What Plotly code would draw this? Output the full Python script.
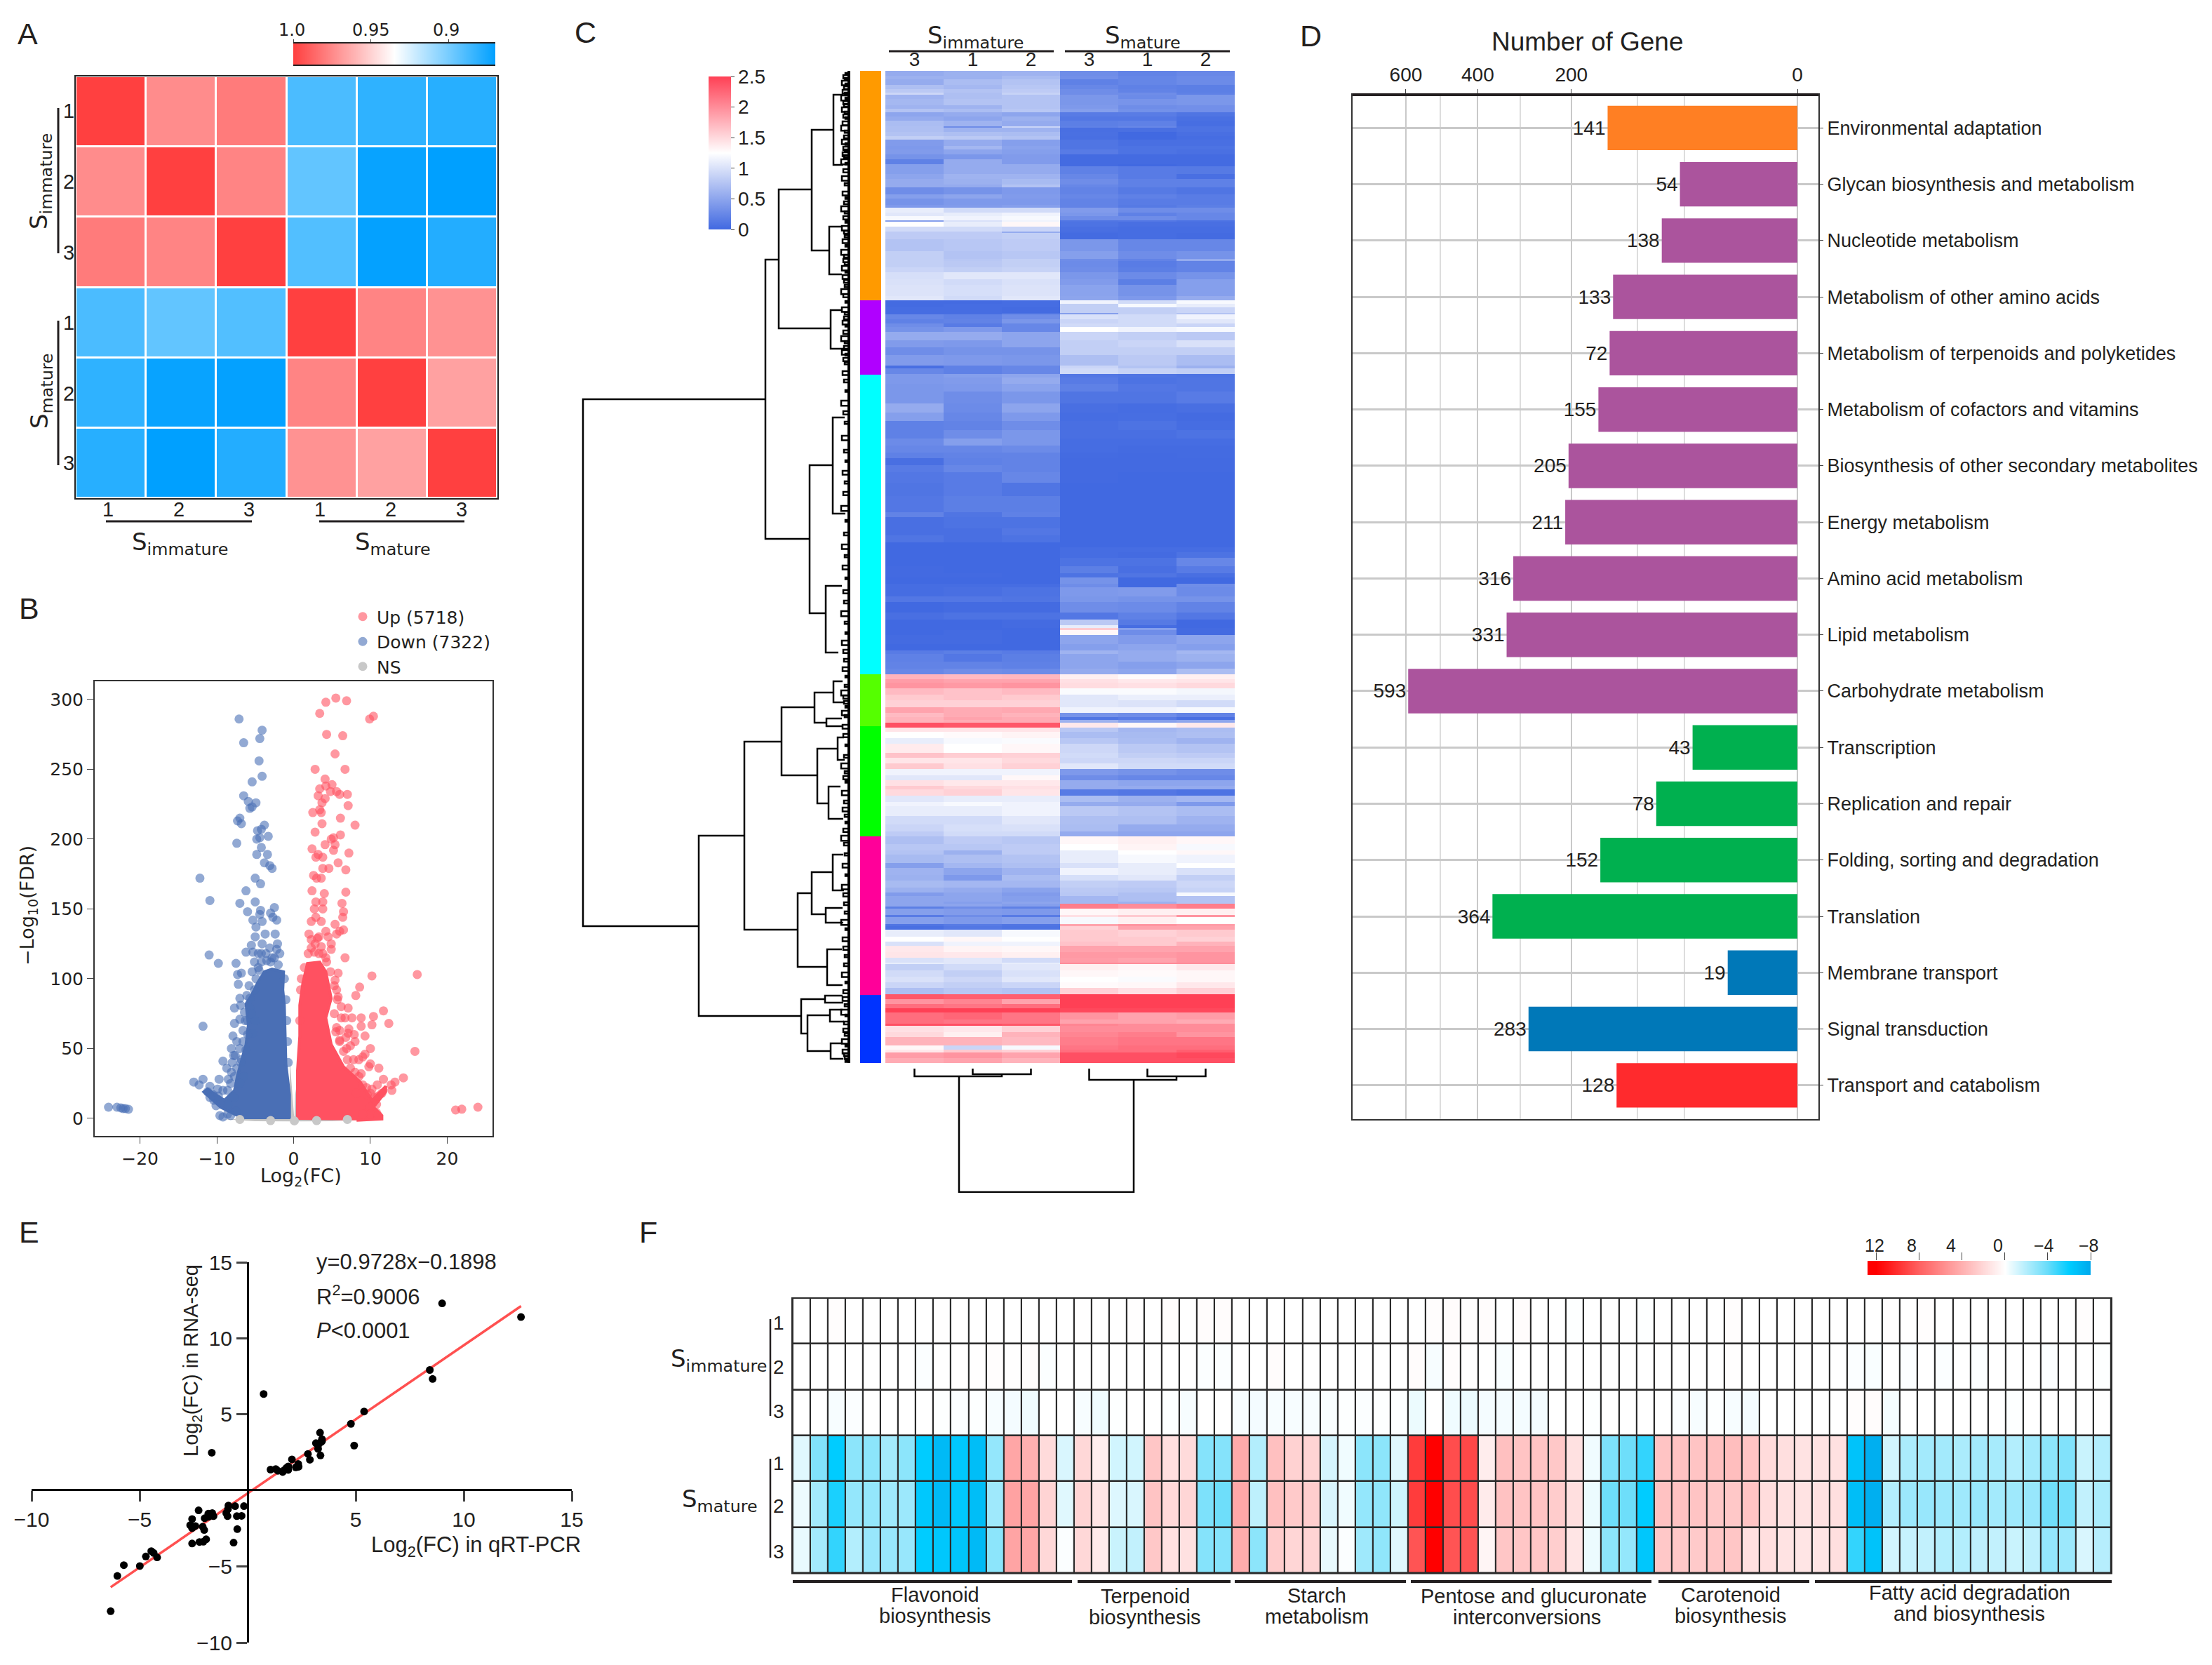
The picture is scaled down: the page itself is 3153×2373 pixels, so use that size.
import numpy as np
import plotly.graph_objects as go

W, H = 3153, 2373
SANS = "Liberation Sans"
WIDE = "DejaVu Sans"
NARROW = "Liberation Sans"
INK = "#231f20"

# ---------- Panel A ----------
corr_labels = ["1", "2", "3", "1", "2", "3"]
corr_matrix = [
    [1.000, 0.974, 0.980, 0.889, 0.882, 0.880],
    [0.974, 1.000, 0.977, 0.895, 0.872, 0.870],
    [0.980, 0.977, 1.000, 0.891, 0.871, 0.879],
    [0.889, 0.895, 0.891, 1.000, 0.977, 0.972],
    [0.882, 0.872, 0.871, 0.977, 1.000, 0.967],
    [0.880, 0.870, 0.879, 0.972, 0.967, 1.000],
]

# ---------- Panel B ----------
down_x = [-7.1,-4.1,-4.4,-6.5,-4.5,-4.1,-5.4,-6.5,-5.9,-4.9,-5.4,-5.7,-7,-7.3,-6.8,-3.8,-4.2,-4.7,-4.4,-4.8,-3.3,-7.4,-4.2,-3.4,-4.8,-3.8,-3.1,-2.8,-12.2,-5,-4.3,-6.2,-10.9,-5,-7,-2.5,-4.3,-6,-3,-4.4,-5.3,-2.2,-2.7,-4.1,-4.9,-5,-3.7,-2.4,-5.5,-5.3,-6.2,-4.2,-2.2,-2.8,-11,-9.8,-7.5,-6.8,-7.3,-5.4,-7.2,-4.6,-7,-5.7,-7.7,-6.9,-5.7,-7.7,-7,-6,-5,-11.8,-6.6,-5.3,-7.9,-7.4,-8.1,-7.8,-6.2,-6.8,-9.2,-8.7,-8.1,-9.7,-7.7,-11.8,-13,-12.3,-10.9,-9.9,-11.2,-10.4,-10.1,-9.6,-8.6,-9.2,-24.1,-23,-22.5,-22.2,-21.9,-21.5,
          -6.5,-7,-8.2,-7.8,-6,-5.5,-6.6,-6.9,-7.4,-8.6,-6.3,-4.9,-5.1,-4.5,-4.2,-3.5,-3,-2.5,-2,-1.8,-2.1,-3.1,-3.6,-4.1,-4.6,-5.1,-1.2,-1,-.9,-.8,-.7,-5.8,-6.1,-6.4,-7,-7.6,-8,-8.5,-9.2,-9.8,-10.5,-10.9,-8.5,-7.5,-8.2]
down_y = [286,278,272,269,256,245,241,231,227,226,223,222,215,213,211,210,207,206,201,200,202,197,194,189,189,183,181,179,172,172,168,163,156,155,154,151,149,148,147,146,142,142,144,141,137,130,132,132,124,119,119,118,121,115,117,111,111,104,103,105,96,108,86,86,79,81,79,68,71,70,70,66,63,61,59,55,50,45,49,42,41,36,33,28,30,28,26,24,23,21,19,13,9,2,3,1,8,8,7.5,7,7,6.5,
          30,25,25,15,60,75,55,40,36,20,70,100,92,106,112,113,112,115,110,118,125,122,118,125,118,112,100,85,70,55,40,95,88,76,50,45,40,28,20,16,17,15,10,5,2]
up_x = [5.5,6.9,4.2,3.4,10.4,9.9,4.3,6.4,5.4,2.8,6.7,4.1,3.4,5,4.2,4.8,5.6,6,7,3.2,4.1,3.7,7.1,3.4,2.5,3.6,6.1,3.7,8,2.8,6.1,4.9,5.2,4.1,5.4,2.4,5.2,7.2,3.2,2.9,3.8,5.8,3.8,4.6,6.8,2.6,3.6,3,2.4,4,6.8,2.9,3.8,6.3,2.7,3.8,6.5,6.4,2.9,3.6,2.3,5.4,4.2,6.5,6,5.6,2,4.5,3.1,3.6,4.9,2.7,6.7,4.2,10.2,16.1,5.8,5.4,8.6,5.6,8.1,5.8,11.7,7.1,6.2,10.4,6.7,8.8,7.6,12.4,10.2,8.8,6,7.1,7.9,9.3,8,6,10,6.9,15.8,9.3,9,7.8,8.5,10,9.8,11.1,8.8,14.3,13.2,11.7,12.7,10.9,10.2,12.8,9.6,10.8,21.1,21.9,24,
        1,.9,.8,1.4,1.9,2.3,2.8,3.3,3.8,4.3,4.8,5.3,5.7,5.3,5.6,6,6.5,7,7.4,8,8.5,9,9.5,10,10.5,11,11.5,6.2,6.8,7.4,7.2,5.5,8.2,10,10.8,10,9,11,4.9,3.3,2.3]
up_y = [301,299,298,290,288,286,275,274,261,250,250,243,236,239,238,234,234,232,232,231,229,226,224,221,219,219,215,211,210,205,203,200,201,196,196,193,192,190,189,187,187,183,179,179,178,174,172,172,163,161,162,155,155,154,150,150,148,144,144,141,141,139,134,135,134,132,132,130,129,123,121,119,115,115,102,103,104,99,94,92,88,87,77,79,80,73,72,72,72,68,67,66,63,61,60,59,55,56,50,50,48,46,44,42,42,39,37,36,32,29,26,28,24,24,21,20,17,10,6,6.6,8,
        100,92,70,108,118,122,125,118,118,112,105,95,85,75,65,55,48,42,36,33,30,24,22,18,15,16,18,72,58,52,64,62,18,8,4,3,3,2,125,130,128]
ns_x = [-7, -3, 0.1, 3, 7]
ns_y = [-0.8, -1.6, -1.8, -1.6, -0.8]
down_mass_x = [-.53,-.53,-1,-1.1,-1.2,-1.4,-1.3,-2.8,-3.8,-4.7,-5.5,-6.2,-5.9,-6.2,-7.3,-7.7,-9,-11.2,-11.7,-9.5,-6.4]
down_mass_y = [-.5,17,39,59,81,92,105,107,105,97,88,82,67,53,31,20,13,21,19,8,-.5]
up_mass_x = [.5,.5,.8,.8,1.2,1.8,3.4,4.2,4.9,4.2,4.9,6.5,8.7,10.2,12,12,10.4,11.5,11.5,8.2]
up_mass_y = [-1,34,59,81,97,111,112,105,86,72,53,37,26,13,23,19,8,2,-.5,-1.4]
ns_band_x = [-9.5,-5,0,5,10,0,-9.5]
ns_band_y = [-.5,-2,-2.2,-2,-.5,-.5,-.5]
ns_wedge_l_x = [-.5,.1,-.1,-.5]
ns_wedge_l_y = [-1.2,-1.2,13,42]
ns_wedge_r_x = [.1,.6,.6,.2]
ns_wedge_r_y = [-1.2,-1.2,31,17]

# ---------- Panel C ----------
col_labels = ["3", "1", "2", "3", "1", "2"]
# each row: rank at the top of the band, then S-immature 3,1,2, S-mature 3,1,2
heat_rows = [
(0,.55,.6,.62,.3,.22,.26),(7,.6,.6,.68,.32,.24,.28),(12,.55,.7,.75,.2,.24,.28),(20,.72,.66,.78,.25,.2,.18),
(26,.8,.75,.82,.3,.22,.18),(31,.92,.72,.88,.3,.3,.2),(34,.62,.72,.75,.38,.28,.38),(40,.66,.75,.75,.38,.36,.38),
(49,.62,.62,.75,.4,.3,.32),(54,.75,.7,.78,.45,.33,.32),(59,.5,.55,.5,.15,.16,.1),(65,.55,.5,.6,.12,.12,.06),
(71,.7,.62,.55,.18,.2,.04),(79,.72,.3,.9,.2,.25,.08),(81,.72,.62,.62,.05,.06,.08),(87,.75,.72,.7,.06,0,.05),
(93,.85,.8,.75,.05,0,.03),(98,.42,.55,.45,.1,.05,.05),(107,.4,.65,.48,.1,.08,.08),(112,.42,.5,.45,.15,.08,.06),
(119,.35,.38,.42,.02,.02,.02),(126,.2,.55,.42,.02,.02,.02),(133,.45,.55,.55,.02,0,.02),(136,.45,.55,.55,.2,.15,.14),
(147,.5,.62,.62,.25,.15,.05),(154,.55,.6,.68,.3,.2,.2),(162,.55,.55,.75,.25,.2,.2),(166,.3,.35,.4,.22,.14,.1),
(176,.45,.5,.42,.25,.2,.16),(182,.35,.4,.4,.22,.16,.16),(191,.4,.42,.45,.22,.14,.18),(195,1.1,.95,.95,.42,.3,.3),
(202,1.05,1.1,1.15,.38,.2,.25),(207,1.2,1.15,1.2,.3,.3,.25),(213,.45,1.0,1.15,.1,.12,.08),(215,1.25,1.1,1.3,.08,.05,.05),
(222,.95,.95,.9,.05,.03,.03),(229,.82,.82,.55,.03,.03,.03),(231,.82,.82,.85,.02,.03,.02),(240,.75,.78,.82,.38,.25,.25),
(257,.85,.75,.78,.45,.3,.35),(268,.85,.78,.85,.3,.22,.55),(271,.85,.8,.85,.28,.16,.22),(280,.9,.85,.88,.3,.18,.22),
(287,.98,1.05,1.05,.38,.28,.35),(297,1.0,.95,1.0,.42,.18,.45),(305,1.02,.98,1.02,.48,.35,.45),(321,1.05,.95,1.05,.5,.4,.55),
(327,.02,.02,.03,1.15,.95,1.2),(332,.02,.03,.03,.85,1.2,1.1),(337,.03,.03,.02,.85,.85,.9),(345,.03,.04,.1,.45,.85,.75),
(347,.25,.2,.3,1.0,.95,1.15),(354,.2,.22,.38,.9,.95,1.05),(360,.3,.15,.25,.95,.95,.9),(365,.35,.4,.25,1.25,1.15,1.2),
(372,.55,.55,.5,.9,.85,.8),(384,.42,.4,.5,.85,.9,1.0),(394,.3,.35,.35,.85,.85,.85),(405,.42,.4,.38,.72,.8,.7),
(420,.05,.2,.25,.9,.75,.6),(424,.25,.2,.25,.95,.88,.85),(432,.4,.45,.5,.12,.1,.08),(437,.4,.42,.55,.15,.08,.1),
(446,.38,.4,.48,.2,.12,.1),(457,.38,.3,.38,.1,.1,.15),(474,.55,.28,.5,.05,.03,.05),(487,.45,.25,.4,.03,.04,.02),
(499,.2,.22,.3,.05,.08,.03),(512,.2,.3,.38,.05,.05,.08),(524,.28,.45,.38,.03,.03,.03),(534,.25,.25,.28,.03,.02,.02),
(544,.2,.22,.22,.02,.01,.02),(552,.05,.2,.22,.01,.01,.01),(562,.15,.25,.22,.01,.01,.01),(572,.12,.15,.25,.01,0,0),
(587,.1,.15,.1,0,0,0),(606,.12,.18,.18,0,0,0),(629,.22,.1,.2,0,0,0),(636,.05,.08,.08,0,0,0),
(652,.05,.05,.12,0,0,0),(662,.1,.05,.08,0,0,0),(672,0,0,0,0,0,0),(679,0,0,0,.03,.03,.03),
(686,0,0,0,.03,.02,.08),(694,0,0,0,.08,.08,.25),(706,.01,0,0,.18,.05,.15),(716,.01,.01,0,.08,.1,.05),
(722,0,0,0,.35,0,0),(731,.03,.03,.03,.3,0,.3),(736,.03,.05,.08,.4,.42,.28),(749,.12,.12,.1,.38,.35,.35),
(757,0,.02,.02,.3,.28,.22),(772,.05,.08,.08,.12,.2,.12),(782,0,0,.02,.8,.14,0),(790,0,0,.02,1.1,.03,0),
(794,0,0,0,1.6,.45,.02),(797,0,.02,0,1.3,.3,.02),(804,.02,.02,0,.5,.42,.5),(817,0,0,0,.45,.5,.45),
(826,.15,.18,.15,.62,.55,.65),(831,.2,.12,.18,.5,.55,.6),(842,.22,.22,.2,.5,.45,.5),(852,.25,.3,.28,.55,.5,.7),
(860,1.75,1.7,1.72,1.35,1.28,1.35),(867,1.9,1.85,1.85,1.45,1.4,1.42),(872,1.95,1.92,1.95,1.48,1.45,1.5),(880,1.7,1.65,1.7,1.22,1.22,1.18),
(889,1.6,1.65,1.6,1.05,1.12,1.12),(897,1.55,1.55,1.55,1.05,1.02,.95),(907,1.85,1.8,1.82,1.15,1.15,1.2),(915,1.7,1.8,1.75,.35,.3,.22),
(921,1.75,1.85,1.8,.1,.15,.05),(925,1.75,1.8,1.8,.6,.45,.5),(929,2.4,2.35,2.35,1.4,1.3,1.4),(936,1.42,1.42,1.42,.78,.65,.7),
(942,1.25,1.28,1.32,.7,.68,.72),(951,1.1,1.2,1.22,.78,.7,.62),(959,1.38,1.25,1.3,.92,.8,.75),(972,1.65,1.58,1.55,.95,.85,.82),
(979,1.42,1.42,1.5,.92,.92,.9),(987,1.6,1.45,1.55,1.05,.95,.95),(995,1.15,1.15,1.15,.4,.35,.3),(1004,1.05,1.05,1.3,.3,.25,.25),
(1011,1.45,1.4,1.4,.55,.5,.5),(1019,1.6,1.5,1.45,.55,.55,.55),(1024,1.5,1.55,1.42,.15,.12,.08),(1033,1.05,1.1,1.1,.7,.6,.65),
(1042,1.15,1.2,1.15,.55,.55,.4),(1048,1.1,1.1,1.15,.8,.75,.7),(1062,.95,.95,1.05,.72,.72,.62),(1074,.9,.98,1.0,.7,.55,.55),
(1084,.82,.95,.95,.55,.5,.5),(1091,.72,.82,.78,1.3,1.35,1.3),(1102,.78,.78,.82,1.25,1.32,1.2),(1111,.75,.6,.82,1.1,1.25,1.3),
(1117,.68,.72,.75,1.1,1.2,1.15),(1129,.45,.65,.72,1.0,1.1,1.25),(1136,.62,.5,.62,1.15,1.1,1.0),(1146,.6,.4,.7,.98,1.05,.85),
(1154,.68,.65,.65,.85,.82,.92),(1164,.6,.55,.48,.8,.78,.88),(1171,.42,.5,.42,.78,.72,1.2),(1176,.5,.5,.45,.65,.72,.75),
(1184,.5,.45,.5,.65,.6,.75),(1187,.5,.5,.45,2.1,2.0,2.1),(1191,.18,.3,.2,2.1,2.0,2.1),(1194,.45,.42,.4,1.3,1.35,1.35),
(1203,.15,.3,.15,1.45,1.6,1.95),(1206,.45,.4,.45,1.2,1.35,1.25),(1216,.1,.15,.1,1.85,1.95,1.9),(1219,.05,.12,.08,1.55,1.85,1.85),
(1224,1.1,1.05,1.2,1.6,1.55,1.6),(1234,1.25,1.3,1.25,1.6,1.6,1.55),(1241,1.0,1.15,1.15,1.65,1.6,1.75),(1247,1.4,1.32,1.3,1.85,1.85,1.85),
(1256,1.42,1.4,1.35,1.92,1.92,1.95),(1264,1.0,1.05,.95,1.9,1.85,1.95),(1271,1.1,1.05,1.1,2.0,2.0,2.0),(1273,.85,.95,1.05,1.35,1.3,1.4),
(1282,.95,.85,1.0,1.3,1.28,1.3),(1291,1.0,.92,1.05,1.25,1.22,1.3),(1299,.9,.85,.9,1.28,1.3,1.4),(1307,.72,.78,.75,1.55,1.45,1.55),
(1316,2.35,2.3,2.3,2.5,2.5,2.5),(1323,1.95,2.05,1.85,2.5,2.5,2.5),(1330,2.2,2.15,2.2,2.5,2.5,2.5),(1336,2.5,2.5,2.5,2.45,2.45,2.45),
(1342,2.2,2.25,2.15,1.95,1.85,1.9),(1352,2.2,2.15,2.15,1.85,1.85,1.8),(1358,2.4,2.4,2.35,2.05,2.0,2.0),(1361,1.45,1.4,1.55,2.0,2.0,2.0),
(1370,1.5,1.35,1.75,2.05,2.1,1.95),(1377,1.75,1.75,1.7,2.1,2.15,2.15),(1389,1.3,.9,1.2,2.15,2.2,2.2),(1395,1.4,1.6,1.55,2.2,2.2,2.3),
(1399,1.9,1.95,1.85,2.4,2.4,2.45),(1407,1.8,1.85,1.75,2.4,2.4,2.4),
]
heat_end = 1414
cluster_edges = [0, 327, 433, 860, 934, 1091, 1317, 1414]
cluster_colors = ["#ff9a00", "#b000ff", "#00ffff", "#55ff00", "#00ff00", "#ff0099", "#0033ff"]
# row dendrogram merges: height, upper rank, lower rank, upper child height, lower child height
tree_merges = [
(377,468,1219,117,212),(117,269,667,98,54),(98,169,367,51,24),(51,84,256,20,26),(20,34,134,6,6),(26,222,290,8,8),
(24,341,396,8,6),(54,562,773,21,31),(21,494,631,4,3),(31,734,829,8,13),(212,1090,1347,147,66),(147,956,1224,94,71),
(94,907,1004,47,43),(47,886,929,20,30),(20,870,900,7,5),(30,923,934,8,6),(43,966,1044,14,27),(14,950,982,5,4),
(27,1020,1066,10,6),(71,1172,1277,51,29),(51,1142,1202,21,31),(21,1117,1168,6,5),(31,1193,1214,7,6),(29,1252,1303,8,7),
(66,1323,1372,32,57),(32,1318,1328,7,6),(57,1346,1397,25,24),(25,1338,1355,7,5),(24,1386,1408,9,6),
]
fringe_y = [3,6,10,14,18,22,27,31,35,38,43,47,52,58,62,66,72,78,85,92,98,103,108,112,116,120,126,131,140,150,160,172,180,186,193,200,207,214,221,228,234,240,248,255,262,268,273,278,285,291,298,305,311,318,328,337,344,350,356,362,370,378,385,392,398,403,409,415,428,440,455,470,485,500,520,540,555,570,585,600,620,640,658,675,690,705,722,740,755,770,785,800,812,825,838,850,862,875,883,890,898,905,912,918,932,945,960,975,987,998,1005,1012,1026,1040,1050,1060,1070,1080,1090,1100,1115,1130,1145,1160,1172,1185,1198,1210,1222,1235,1248,1260,1272,1285,1298,1310,1320,1330,1338,1345,1355,1365,1372,1380,1388,1395,1400,1405,1410]
fringe_h = [3,6,4,8,3,5,7,4,9,3,6,5,8,4,6,3,7,9,4,5,8,3,6,4,7,5,9,3,6,8,4,7,3,5,9,4,6,3,8,5,4,7,3,9,5,6,4,8,3,7,5,4,9,6,3,8,4,5,7,3,6,9,4,5,8,3,6,4,7,5,3,9,6,4,8,5,3,7,4,6,9,3,5,8,4,7,3,6,5,9,4,3,8,6,5,7,3,4,9,6,5,3,8,4,7,6,3,5,9,4,6,3,8,5,7,4,3,6,9,5,4,7,3,8,6,5,4,9,3,7,6,4,5,8,3,6,7,4,9,3,5,6,4,8,3,7,5,4,3]
col_tree_x = [1.5,1.5,2.5,2.5,None,.5,.5,2,2,None,4.5,4.5,5.5,5.5,None,3.5,3.5,5,5,None,1.265,1.265,4.265,4.265]
col_tree_h = [176,168,168,176,None,176,165,165,168,None,176,165,165,176,None,176,160,160,165,None,165,0,0,160]

# ---------- Panel D ----------
pathways = ["Environmental adaptation","Glycan biosynthesis and metabolism","Nucleotide metabolism","Metabolism of other amino acids",
            "Metabolism of terpenoids and polyketides","Metabolism of cofactors and vitamins","Biosynthesis of other secondary metabolites",
            "Energy metabolism","Amino acid metabolism","Lipid metabolism","Carbohydrate metabolism","Transcription","Replication and repair",
            "Folding, sorting and degradation","Translation","Membrane transport","Signal transduction","Transport and catabolism"]
gene_bar = [141,54,72,133,138,155,205,211,316,331,593,43,78,152,364,19,283,128]
gene_label = [141,54,138,133,72,155,205,211,316,331,593,43,78,152,364,19,283,128]
bar_colors = ["#ff7f23"] + ["#ab549d"]*10 + ["#00b04f"]*4 + ["#0078b8"]*2 + ["#ff2a2d"]
d_ticks = [600,400,200,0]
d_minor = [500,300,100,50]

# ---------- Panel E ----------
qpcr = [12.65,9.0,8.43,8.56,5.39,4.78,4.93,.74,-1.66,3.35,3.16,3.26,3.26,3.39,3.44,3.44,3.37,2.79,2.88,2.05,2.34,2.23,2.36,1.88,1.8,1.88,1.62,1.4,1.3,1.06,1.69,-.17,-.58,-.89,-.91,-.99,-.93,-.5,-.28,-.48,-.65,-2.27,-1.82,-1.64,-1.58,-1.8,-1.99,-2.57,-2.66,-2.57,-2.42,-2.08,-2.01,-1.92,-2.05,-2.23,-2.57,-4.46,-4.35,-4.19,-4.71,-4.99,-5.73,-6.03,-6.34]
rnaseq = [11.4,12.3,7.92,7.33,5.19,4.38,2.95,6.34,2.48,3.8,3.11,2.97,2.73,3.17,3.37,3.23,2.3,2.4,2.02,2.04,1.74,1.52,1.56,1.58,1.49,1.35,1.21,1.29,1.41,1.37,1.33,-1.03,-1.03,-.99,-1.23,-1.49,-1.69,-1.69,-1.67,-2.54,-3.43,-1.31,-1.53,-1.49,-1.69,-1.73,-1.83,-1.88,-2.28,-2.48,-2.34,-2.38,-2.6,-3.21,-3.37,-3.39,-3.49,-3.99,-4.11,-4.4,-4.34,-4.97,-4.91,-5.62,-7.94]
fit_x = [-6.34, 12.65]
fit_y = [-6.36, 12.12]

# ---------- Panel F ----------
imm1 = [0,0,.1,0,0,0,0,0,.05,.05,0,0,0,0,0,0,.05,0,0,.05,0,.05,0,.15,.15,0,0,0,0,0,0,0,0,0,0,0,.1,.15,.1,.15,0,.15,0,0,-.05,0,0,0,-.05,0,0,0,0,.1,0,0,0,0,0,0,0,0,.1,0,.1,0,0,0,0,0,0,0,0,.1,0]
imm2 = [0,0,0,0,0,0,0,-.1,0,.05,.05,.1,.05,.1,-.1,0,0,0,0,0,0,0,0,-.1,-.1,0,0,.15,0,0,0,0,0,0,0,.15,-.2,.1,.05,0,-.15,0,0,0,0,0,0,0,0,0,0,0,0,.05,0,0,0,0,0,0,-.1,-.15,0,-.1,0,-.1,0,-.1,0,0,0,-.1,0,0,-.05]
imm3 = [0,0,-.2,-.1,0,0,0,0,-.05,-.1,-.05,-.2,-.3,-.4,0,0,-.2,-.4,-.05,0,0,-.05,-.2,0,0,-.2,-.3,-.2,-.2,-.2,-.15,-.05,-.1,-.05,-.05,-.5,0,-.4,-.5,-.3,-.3,-.3,-.3,0,0,-.05,0,0,0,0,-.1,-.2,-.05,-.2,-.3,0,0,0,0,0,.1,.15,-.25,0,0,0,0,0,0,-.05,0,0,0,0,0]
mat1 = [-.8,-3.3,-6,-3,-3,-2.4,-3,-6,-7,-6.2,-6.8,-2.8,4.5,4,1.8,-1,2,.9,-1.2,-1.2,2.9,1.6,1.8,-3.2,-3.2,4.3,-2,3.2,2.3,2.2,-1.1,-.4,-3,-3,-.8,9.5,12,8.8,9,.9,3.2,3,3,2.8,1.5,-.4,-3.4,-3.8,-5,3,3.1,3,3.2,3.3,3,1.8,1.6,1.4,1.4,1.5,-6.5,-7.6,-1.2,-2.2,-2.4,-2.4,-2.2,-2.4,-2.3,-2,-2.4,-3,-3.3,-1.4,-2]
mat2 = [-.5,-2.4,-5.5,-2.8,-2.8,-2.5,-2.6,-6.2,-7,-6.2,-6.8,-2.5,4.7,4.6,2.2,-.8,2.2,1.3,-.9,-1,3,1.9,2.1,-3.4,-3.8,4.4,-1.7,3.2,2.7,2.5,-1,-.4,-2.8,-2.9,-1.3,9.5,12,8.8,8.8,1,3.1,3,3,2.6,1.6,-.5,-3.8,-3.8,-6,3.1,3.1,3,2.8,2.8,3,1.7,1.5,1.4,1.5,1.6,-6.8,-7.6,-2,-2.6,-2.7,-2.6,-2.5,-2.7,-2.4,-2.5,-2.7,-3.7,-3.6,-1.6,-2.2]
mat3 = [-.6,-2.4,-5,-2,-2.7,-2.7,-2.7,-6,-6.3,-6.4,-7,-3,4.6,4.5,2,-.1,2,1,-1.4,-1.6,2.8,1.5,1.5,-3.2,-3.2,4.2,-3,2.6,2.1,2.2,-.6,-.1,-2.5,-2.9,-.8,8.5,12,8.5,8.5,.5,2.9,2.9,2.9,2.5,1.3,-.5,-3,-2.8,-6.3,2.8,2.8,2.7,2.9,2.9,1.6,1.6,1.4,1.3,1.3,1.6,-5,-6.5,-1.2,-1.5,-1.6,-2,-2,-1.7,-1.6,-1.4,-1.7,-2.8,-2.6,-1,-1.9]
f_ticks = [12, 8, 4, 0, -4, -8]
f_scale_values = [12.8,12,11,10,9,8,7,6,5,4,3,2,1,.5,0,-.5,-1,-2,-3,-4,-5,-6,-7,-8]

# ---------- helpers ----------
layout = {}
n_axes = 0
shapes, notes = [], []

def axes(x0, x1, y0, y1, xkw, ykw):
    global n_axes
    n_axes += 1
    s = "" if n_axes == 1 else str(n_axes)
    xd = dict(domain=[x0/W, x1/W], anchor="y"+s, showgrid=False, zeroline=False, automargin=False)
    yd = dict(domain=[1-y1/H, 1-y0/H], anchor="x"+s, showgrid=False, zeroline=False, automargin=False)
    xd.update(xkw); yd.update(ykw)
    layout["xaxis"+s] = xd
    layout["yaxis"+s] = yd
    return "x"+s, "y"+s

def line(x0, y0, x1, y1, w=3, color="#231f20"):
    shapes.append(dict(type="line", xref="paper", yref="paper", x0=x0/W, x1=x1/W,
                       y0=1-y0/H, y1=1-y1/H, line=dict(color=color, width=w)))

def note(x, y, text, size=28, font=SANS, angle=0, xanchor="center", color=INK):
    notes.append(dict(xref="paper", yref="paper", x=x/W, y=1-y/H, text=text, showarrow=False,
                      xanchor=xanchor, yanchor="middle", textangle=angle,
                      font=dict(family=font, size=size, color=color)))

fig = go.Figure()

for lx, ly, t in [(23,48,"A"),(25,867,"B"),(817,46,"C"),(1851,51,"D"),(25,1756,"E"),(909,1756,"F")]:
    note(lx, ly, t, size=43, xanchor="left")

# ---------- A ----------
rb = [[0,"#00a0ff"],[0.5,"#ffffff"],[1,"#ff4040"]]
xa, ya = axes(108, 709, 109, 710,
    dict(range=[-.5,5.5], tickvals=list(range(6)), showticklabels=False, ticks="", showline=True, mirror=True, linecolor="#222", linewidth=2),
    dict(range=[5.5,-.5], tickvals=list(range(6)), showticklabels=False, ticks="", showline=True, mirror=True, linecolor="#222", linewidth=2))
fig.add_trace(go.Heatmap(z=corr_matrix, xaxis=xa, yaxis=ya, zmin=.87, zmax=1, colorscale=rb, showscale=False, xgap=3, ygap=3))
for px_, t in zip([154,255,355,456,557,658], corr_labels):
    note(px_,726,t,29)
for py_, t in zip([158,259,360,460,561,660], corr_labels):
    note(98,py_,t,29)
a_scale = [1.0,.99,.98,.97,.96,.95,.945,.94,.935,.93,.925,.92,.91,.9,.89,.88,.87]
xa, ya = axes(418, 706, 62, 92,
    dict(range=[1.0,.87], tickvals=[1.0,.95,.9], showticklabels=False, side="top", ticks="outside", ticklen=4,
         showline=True, mirror=True, linecolor="#222", linewidth=1.5),
    dict(visible=False, range=[0,1]))
fig.add_trace(go.Heatmap(z=[a_scale], x=a_scale, y=[.5], xaxis=xa, yaxis=ya, zmin=.87, zmax=1, colorscale=rb, showscale=False, zsmooth="best"))
for px_, t in [(416,"1.0"),(528,"0.95"),(636,"0.9")]:
    note(px_,43,t,24,font=WIDE)
line(151,743,359,743); line(455,743,662,743)
line(83,154,83,361); line(83,457,83,663)
note(256,774,"S<sub>immature</sub>",34,font=WIDE); note(560,774,"S<sub>mature</sub>",34,font=WIDE)
note(58,259,"S<sub>immature</sub>",34,font=WIDE,angle=-90); note(58,557,"S<sub>mature</sub>",34,font=WIDE,angle=-90)

# ---------- B ----------
tf = dict(family=WIDE, size=25, color=INK)
xa, ya = axes(135, 702, 971, 1619,
    dict(range=[-25.9,25.9], tickvals=[-20,-10,0,10,20], ticks="outside", ticklen=9, showline=True, mirror=True, linecolor="#333", linewidth=2, tickfont=tf),
    dict(range=[-12.6,313], tickvals=[0,50,100,150,200,250,300], ticks="outside", ticklen=9, showline=True, mirror=True, linecolor="#333", linewidth=2, tickfont=tf))
grey = "#c4c4c4"
for px_, py_ in [(ns_band_x,ns_band_y),(ns_wedge_l_x,ns_wedge_l_y),(ns_wedge_r_x,ns_wedge_r_y)]:
    fig.add_trace(go.Scatter(x=px_, y=py_, xaxis=xa, yaxis=ya, mode="lines", fill="toself", fillcolor=grey, line=dict(width=0), showlegend=False, hoverinfo="skip"))
fig.add_trace(go.Scatter(x=down_mass_x, y=down_mass_y, xaxis=xa, yaxis=ya, mode="lines", fill="toself", fillcolor="#4a6fb5", line=dict(width=4,color="#4a6fb5"), showlegend=False, hoverinfo="skip"))
fig.add_trace(go.Scatter(x=up_mass_x, y=up_mass_y, xaxis=xa, yaxis=ya, mode="lines", fill="toself", fillcolor="#ff5161", line=dict(width=4,color="#ff5161"), showlegend=False, hoverinfo="skip"))
fig.add_trace(go.Scatter(x=up_x, y=up_y, xaxis=xa, yaxis=ya, mode="markers", name="Up (5718)", marker=dict(size=13, color="#ff5161", opacity=.6, line=dict(width=0))))
fig.add_trace(go.Scatter(x=down_x, y=down_y, xaxis=xa, yaxis=ya, mode="markers", name="Down (7322)", marker=dict(size=13, color="#4a6fb5", opacity=.6, line=dict(width=0))))
fig.add_trace(go.Scatter(x=ns_x, y=ns_y, xaxis=xa, yaxis=ya, mode="markers", name="NS", marker=dict(size=13, color="#c8c8c8", line=dict(width=0))))
note(429,1677,"Log<sub>2</sub>(FC)",27,font=WIDE); note(40,1291,"−Log<sub>10</sub>(FDR)",27,font=WIDE,angle=-90)

# ---------- C ----------
heat_arr = np.array(heat_rows)
edges = list(heat_arr[:,0]) + [heat_end]
xa, ya = axes(1262, 1760, 101, 1515,
    dict(range=[0,6], tickvals=[.5,1.5,2.5,3.5,4.5,5.5], ticktext=col_labels, side="top", ticks="", showline=False,
         tickfont=dict(family=SANS, size=28, color=INK)),
    dict(visible=False, range=[heat_end,0]))
fig.add_trace(go.Heatmap(z=heat_arr[:,1:].tolist(), x=[0,1,2,3,4,5,6], y=edges, xaxis=xa, yaxis=ya, zmin=0, zmax=2.5,
    colorscale=[[0,"#4169e1"],[0.5,"#ffffff"],[1,"#ff4055"]],
    colorbar=dict(x=1010/W, xanchor="left", y=1-109/H, yanchor="top", len=218, lenmode="pixels", thickness=32, thicknessmode="pixels",
                  xpad=0, ypad=0, tickvals=[0,.5,1,1.5,2,2.5], ticktext=["0","0.5","1","1.5","2","2.5"], ticks="outside", ticklen=5,
                  outlinewidth=0, tickfont=dict(family=SANS, size=28, color=INK))))
side_scale = []
nc = len(cluster_colors)
for i, c in enumerate(cluster_colors):
    side_scale += [[i/nc, c], [(i+1)/nc, c]]
xa, ya = axes(1226, 1256, 101, 1515, dict(visible=False, range=[0,1]), dict(visible=False, range=[heat_end,0]))
fig.add_trace(go.Heatmap(z=[[i] for i in range(nc)], x=[0,1], y=cluster_edges, xaxis=xa, yaxis=ya, zmin=-.5, zmax=nc-.5, colorscale=side_scale, showscale=False))
tx, ty = [], []
for h, a, b, ha, hb in tree_merges:
    tx += [ha, h, h, hb, None]; ty += [a, a, b, b, None]
for y_, h_ in zip(fringe_y, fringe_h):
    tx += [0, h_, h_, 0, None]; ty += [y_, y_, y_+h_*.8, y_+h_*.8, None]
xa, ya = axes(825, 1208, 101, 1515,
    dict(visible=False, range=[383,0]),
    dict(range=[heat_end,0], side="right", showline=True, linecolor="black", linewidth=4, showticklabels=False, ticks=""))
fig.add_trace(go.Scatter(x=tx, y=ty, xaxis=xa, yaxis=ya, mode="lines", line=dict(color="black", width=2.5), showlegend=False, hoverinfo="skip"))
xa, ya = axes(1262, 1760, 1515, 1700, dict(visible=False, range=[0,6]), dict(visible=False, range=[-1,184]))
fig.add_trace(go.Scatter(x=col_tree_x, y=col_tree_h, xaxis=xa, yaxis=ya, mode="lines", line=dict(color="black", width=2.5), showlegend=False, hoverinfo="skip"))
line(1267,73,1502,73); line(1518,73,1753,73)
note(1390,52,"S<sub>immature</sub>",34,font=WIDE); note(1629,52,"S<sub>mature</sub>",34,font=WIDE)

# ---------- D ----------
xa, ya = axes(1928, 2592, 135, 1595,
    dict(range=[27.83,-1.317], side="top", tickvals=np.sqrt(d_ticks).tolist(), ticktext=[str(v) for v in d_ticks], ticks="outside", ticklen=6,
         showgrid=True, gridcolor="#c9c9c9", gridwidth=2, showline=True, mirror=True, linecolor="#333", linewidth=2,
         minor=dict(tickvals=np.sqrt(d_minor).tolist(), showgrid=True, gridcolor="#dddddd", gridwidth=1.5, ticks=""),
         tickfont=dict(family=NARROW, size=28, color=INK)),
    dict(range=[17.6,-.59], side="right", tickvals=pathways, ticks="outside", ticklen=5, showgrid=True, gridcolor="#c9c9c9", gridwidth=3,
         showline=True, mirror=True, linecolor="#333", linewidth=2, type="category", categoryorder="array", categoryarray=pathways,
         tickfont=dict(family=NARROW, size=27, color=INK)))
fig.add_trace(go.Bar(x=np.sqrt(gene_bar).tolist(), y=pathways, orientation="h", xaxis=xa, yaxis=ya, width=.79, marker=dict(color=bar_colors, line=dict(width=0)),
    text=[str(v) for v in gene_label], textposition="outside", cliponaxis=False, textfont=dict(family=NARROW, size=28, color=INK), showlegend=False))
line(1928,135,2592,135,w=4)
note(2263,59,"Number of Gene",37,font=NARROW)

# ---------- E ----------
xa, ya = axes(45, 815, 1799, 2341,
    dict(range=[-10,15], anchor="free", position=(H-2123)/H, tickvals=[-10,-5,5,10,15], ticks="outside", ticklen=15, tickwidth=3, showline=True,
         linecolor="black", linewidth=3, tickfont=dict(family=SANS, size=30, color=INK)),
    dict(range=[-10,15], anchor="free", position=353/W, tickvals=[-10,-5,5,10,15], ticks="outside", ticklen=15, tickwidth=3, showline=True,
         linecolor="black", linewidth=3, tickfont=dict(family=SANS, size=30, color=INK)))
fig.add_trace(go.Scatter(x=fit_x, y=fit_y, xaxis=xa, yaxis=ya, mode="lines", line=dict(color="#ff5050", width=3.5), showlegend=False))
fig.add_trace(go.Scatter(x=qpcr, y=rnaseq, xaxis=xa, yaxis=ya, mode="markers", marker=dict(color="black", size=11), showlegend=False, cliponaxis=False))
note(449,1798,"y=0.9728x−0.1898",31,xanchor="left")
note(449,1846,"R<sup>2</sup>=0.9006",31,xanchor="left")
note(449,1897,"<i>P</i>&lt;0.0001",31,xanchor="left")
note(274,1939,"Log<sub>2</sub>(FC) in RNA-seq",29,angle=-90)
note(678,2204,"Log<sub>2</sub>(FC) in qRT-PCR",31)

# ---------- F ----------
fscale = [[0,"#00a8ec"],[.1,"#00ccff"],[.2,"#66dcfa"],[.4,"#ffffff"],[.6,"#ffb0b0"],[.8,"#ff6060"],[1,"#ff0000"]]
shapes.append(dict(type="rect", xref="paper", yref="paper", layer="below", x0=1128/W, x1=3011/W, y0=1-2243.5/H, y1=1-1849/H, fillcolor="#2b2b2b", line=dict(width=0)))
xa, ya = axes(1130, 3009, 1850, 2242, dict(visible=False, range=[-.5,74.5]), dict(visible=False, range=[5.5,-.5]))
fig.add_trace(go.Heatmap(z=[imm1,imm2,imm3,mat1,mat2,mat3], xaxis=xa, yaxis=ya, zmin=-8, zmax=12, colorscale=fscale, showscale=False, xgap=2.2, ygap=2.6))
xa, ya = axes(2662, 2980, 1797, 1817,
    dict(range=[12.8,-8], side="top", tickvals=f_ticks, showticklabels=False, ticks="outside", ticklen=11),
    dict(visible=False, range=[0,1]))
fig.add_trace(go.Heatmap(z=[f_scale_values], x=f_scale_values, y=[.5], xaxis=xa, yaxis=ya, zmin=-8, zmax=12, colorscale=fscale, showscale=False, zsmooth="best"))
for px_, t in zip([2672,2725,2781,2848,2913,2977], ["12","8","4","0","−4","−8"]):
    note(px_,1775,t,25)
line(1098,1880,1098,2018,w=2.5); line(1098,2079,1098,2220,w=2.5)
for yy, t in [(1885,"1"),(1948,"2"),(2011,"3"),(2085,"1"),(2146,"2"),(2211,"3")]:
    note(1110,yy,t,28)
note(1024,1938,"S<sub>immature</sub>",34,font=WIDE); note(1026,2138,"S<sub>mature</sub>",34,font=WIDE)
for x0, x1 in [(1130,1528),(1536,1754),(1760,2004),(2011,2354),(2364,2579),(2587,3010)]:
    line(x0,2254,x1,2254,w=4)
for x_, y_, t in [(1333,2273,"Flavonoid"),(1333,2303,"biosynthesis"),(1632,2275,"Terpenoid"),(1632,2305,"biosynthesis"),
                  (1877,2274,"Starch"),(1877,2304,"metabolism"),(2186,2275,"Pentose and glucuronate"),(2176,2305,"interconversions"),
                  (2467,2273,"Carotenoid"),(2467,2303,"biosynthesis"),(2807,2270,"Fatty acid degradation"),(2807,2300,"and biosynthesis")]:
    note(x_,y_,t,29)

fig.update_layout(**layout)
fig.update_layout(width=W, height=H, margin=dict(l=0,r=0,t=0,b=0,autoexpand=False), paper_bgcolor="white", plot_bgcolor="rgba(0,0,0,0)",
                  shapes=shapes, annotations=notes, showlegend=True, bargap=.2,
                  legend=dict(x=497/W, y=1-856/H, xanchor="left", yanchor="top", bgcolor="rgba(0,0,0,0)", itemwidth=30, traceorder="normal",
                              font=dict(family=WIDE, size=25, color=INK)))
fig.write_html("out.html", config=dict(displayModeBar=False),
               post_script="document.body.style.margin='0';document.documentElement.style.overflow='hidden';")
